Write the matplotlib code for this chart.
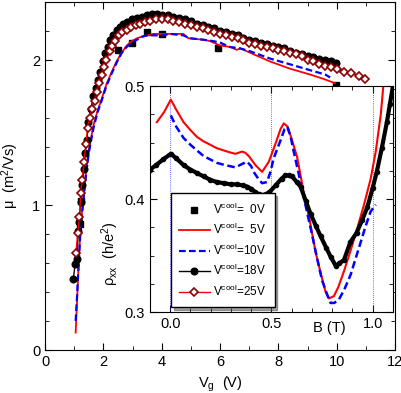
#!/usr/bin/env python

import matplotlib
matplotlib.use('Agg')
import matplotlib.pyplot as plt
from matplotlib.ticker import MultipleLocator

plt.rcParams['font.family'] = ['Liberation Sans', 'DejaVu Sans']
plt.rcParams['mathtext.fontset'] = 'custom'
plt.rcParams['mathtext.rm'] = 'Liberation Sans'
plt.rcParams['mathtext.it'] = 'Liberation Sans:italic'

##########################################
# main panel: mobility vs gate voltage

vg_0v = [1.2, 1.25, 2.49, 2.97, 3.49, 4.0, 5.94, 9.98]
mu_0v = [0.87, 1.03, 2.07, 2.12, 2.19, 2.18, 2.08, 1.83]

vg_5v = [1.05, 1.1, 1.15, 1.2, 1.25, 1.29, 1.4, 1.5, 1.66, 1.8, 1.94, 2.1, 2.29, 2.45, 2.63,
         2.8, 2.97, 3.15, 3.31, 3.5, 3.71, 4.0, 4.3, 4.74, 4.91, 5.43, 5.66, 6.0, 6.34, 6.57,
         6.69, 7.03, 7.71, 8.4, 9.08, 9.54, 9.94]
mu_5v = [0.12, 0.35, 0.58, 0.78, 0.92, 1.0, 1.22, 1.38, 1.55, 1.65, 1.73, 1.83, 1.92, 1.99, 2.05,
         2.1, 2.13, 2.15, 2.16, 2.17, 2.18, 2.18, 2.18, 2.18, 2.15, 2.14, 2.13, 2.1, 2.09, 2.07,
         2.08, 2.05, 1.99, 1.94, 1.9, 1.87, 1.84]

vg_10v = [1.05, 1.1, 1.15, 1.2, 1.25, 1.3, 1.4, 1.5, 1.66, 1.8, 1.94, 2.1, 2.29, 2.45, 2.63,
          2.8, 2.97, 3.15, 3.31, 3.5, 3.71, 4.0, 4.29, 4.74, 4.97, 5.43, 5.77, 6.0, 6.34, 6.69,
          7.03, 7.71, 8.4, 9.08, 9.6, 9.77]
mu_10v = [0.2, 0.38, 0.58, 0.77, 0.9, 1.0, 1.2, 1.36, 1.53, 1.64, 1.72, 1.82, 1.91, 1.98, 2.05,
          2.09, 2.12, 2.14, 2.16, 2.17, 2.17, 2.17, 2.18, 2.17, 2.15, 2.14, 2.13, 2.12, 2.09, 2.08,
          2.06, 2.01, 1.97, 1.93, 1.9, 1.88]

vg_18v = [0.97, 1.03, 1.09, 1.14, 1.17, 1.22, 1.28, 1.33, 1.37, 1.43, 1.49, 1.57, 1.66, 1.73,
          1.8, 1.89, 1.98, 2.06, 2.15, 2.23, 2.34, 2.46, 2.57, 2.68, 2.8, 2.97, 3.14, 3.31, 3.49,
          3.66, 3.83, 4.0, 4.2, 4.4, 4.6, 4.8, 5.0, 5.2, 5.4, 5.6, 5.8, 6.0, 6.2, 6.4, 6.6, 6.8,
          7.0, 7.2, 7.4, 7.6, 7.8, 8.0, 8.2, 8.4, 8.6, 8.8, 9.0, 9.2, 9.4, 9.6, 9.8, 9.97]
mu_18v = [0.49, 0.59, 0.63, 0.82, 0.88, 1.02, 1.14, 1.25, 1.36, 1.45, 1.57, 1.66, 1.75, 1.81,
          1.86, 1.92, 1.99, 2.05, 2.09, 2.14, 2.17, 2.21, 2.23, 2.25, 2.26, 2.28, 2.29, 2.3, 2.31,
          2.32, 2.32, 2.31, 2.31, 2.3, 2.29, 2.28, 2.27, 2.25, 2.24, 2.23, 2.22, 2.2, 2.19, 2.18,
          2.17, 2.15, 2.14, 2.13, 2.12, 2.11, 2.1, 2.09, 2.08, 2.06, 2.05, 2.04, 2.03, 2.02, 2.01,
          2.0, 1.99, 1.98]

vg_25v = [1.06, 1.12, 1.18, 1.22, 1.27, 1.34, 1.4, 1.46, 1.53, 1.6, 1.71, 1.77, 1.85, 1.94,
          2.03, 2.1, 2.23, 2.31, 2.4, 2.54, 2.65, 2.8, 2.95, 3.11, 3.25, 3.43, 3.6, 3.8, 4.0,
          4.2, 4.4, 4.6, 4.8, 5.0, 5.2, 5.4, 5.6, 5.8, 6.0, 6.2, 6.4, 6.6, 6.8, 7.0, 7.2, 7.4,
          7.6, 7.8, 8.0, 8.2, 8.4, 8.6, 8.8, 9.0, 9.2, 9.4, 9.6, 9.8, 10.0, 10.25, 10.5, 10.75,
          10.97]
mu_25v = [0.67, 0.81, 0.92, 1.08, 1.17, 1.3, 1.42, 1.53, 1.6, 1.66, 1.72, 1.78, 1.84, 1.9,
          1.95, 2.0, 2.06, 2.1, 2.13, 2.17, 2.19, 2.21, 2.23, 2.24, 2.25, 2.26, 2.27, 2.28, 2.28,
          2.28, 2.27, 2.26, 2.25, 2.24, 2.23, 2.22, 2.21, 2.19, 2.18, 2.17, 2.16, 2.15, 2.14,
          2.12, 2.11, 2.1, 2.09, 2.08, 2.07, 2.06, 2.05, 2.04, 2.03, 2.0, 1.99, 1.97, 1.96, 1.95,
          1.94, 1.92, 1.91, 1.89, 1.87]

##########################################
# inset: rho_xx vs B

b_5v = [-0.066, -0.03, 0.003, 0.03, 0.066, 0.1, 0.132, 0.165, 0.198, 0.23, 0.264, 0.3, 0.322,
        0.355, 0.37, 0.388, 0.421, 0.454, 0.487, 0.52, 0.545, 0.561, 0.58, 0.6, 0.627, 0.66,
        0.69, 0.718, 0.745, 0.767, 0.784, 0.808, 0.83, 0.858, 0.89, 0.924, 0.96, 0.99, 1.015,
        1.04, 1.055]
rho_5v = [0.468, 0.477, 0.488, 0.479, 0.468, 0.461, 0.455, 0.451, 0.448, 0.445, 0.443, 0.441,
          0.44, 0.442, 0.441, 0.438, 0.43, 0.424, 0.433, 0.449, 0.462, 0.467, 0.464, 0.453, 0.437,
          0.405, 0.38, 0.353, 0.333, 0.318, 0.312, 0.314, 0.322, 0.336, 0.354, 0.374, 0.397,
          0.418, 0.442, 0.475, 0.505]

b_10v = [0.003, 0.03, 0.066, 0.1, 0.132, 0.165, 0.198, 0.23, 0.272, 0.322, 0.355, 0.38, 0.4,
         0.412, 0.435, 0.454, 0.478, 0.495, 0.511, 0.545, 0.565, 0.578, 0.595, 0.61, 0.635,
         0.66, 0.695, 0.726, 0.75, 0.776, 0.792, 0.81, 0.833, 0.86, 0.891, 0.915, 0.941, 0.965,
         0.99, 1.015]
rho_10v = [0.474, 0.464, 0.454, 0.448, 0.443, 0.438, 0.435, 0.432, 0.43, 0.428, 0.431, 0.433,
           0.429, 0.424, 0.418, 0.414, 0.415, 0.424, 0.436, 0.452, 0.462, 0.464, 0.455, 0.442,
           0.422, 0.401, 0.373, 0.347, 0.328, 0.315, 0.308, 0.308, 0.311, 0.32, 0.333, 0.347,
           0.362, 0.376, 0.389, 0.395]

b_18v = [-0.1, -0.07, -0.035, 0.003, 0.03, 0.066, 0.1, 0.132, 0.165, 0.198, 0.23, 0.264, 0.3,
         0.33, 0.36, 0.38, 0.4, 0.421, 0.44, 0.462, 0.49, 0.52, 0.55, 0.569, 0.586, 0.602,
         0.625, 0.644, 0.67, 0.693, 0.72, 0.743, 0.77, 0.792, 0.817, 0.835, 0.858, 0.89, 0.92,
         0.947, 0.974, 1.0, 1.02, 1.045, 1.07, 1.085, 1.1]
rho_18v = [0.426, 0.43, 0.435, 0.44, 0.436, 0.43, 0.426, 0.423, 0.42, 0.417, 0.415, 0.414,
           0.413, 0.413, 0.412, 0.411, 0.409, 0.406, 0.404, 0.4035, 0.406, 0.412, 0.418, 0.421,
           0.421, 0.42, 0.415, 0.411, 0.398, 0.387, 0.376, 0.367, 0.357, 0.349, 0.341, 0.343,
           0.346, 0.362, 0.37, 0.381, 0.393, 0.41, 0.424, 0.445, 0.468, 0.484, 0.5]

dotted_b = [0.0, 0.5, 1.0]

labels = ['V$^{\\mathrm{cool}}$=  0V', 'V$^{\\mathrm{cool}}$=  5V', 'V$^{\\mathrm{cool}}$=10V',
          'V$^{\\mathrm{cool}}$=18V', 'V$^{\\mathrm{cool}}$=25V']

fig = plt.figure(figsize=(4.02, 3.93), dpi=100)
ax = fig.add_axes([0.112, 0.1094, 0.871, 0.8855])

ax.plot(vg_0v, mu_0v, 's', color='k', ms=4.5, label=labels[0])
ax.plot(vg_5v, mu_5v, '-', color='red', lw=1.3, label=labels[1])
ax.plot(vg_10v, mu_10v, '--', color='blue', lw=1.6, dashes=(3, 1.5), label=labels[2])
ax.plot(vg_18v, mu_18v, '-o', color='k', lw=1, ms=4.8, label=labels[3])
ax.plot(vg_25v, mu_25v, '-D', color='red', lw=1, ms=4.3, mfc='white', mec='#8b0000',
        mew=1.2, label=labels[4])

ax.set_xlim(0, 12)
ax.set_ylim(0, 2.4)
ax.xaxis.set_major_locator(MultipleLocator(2))
ax.xaxis.set_minor_locator(MultipleLocator(1))
ax.yaxis.set_major_locator(MultipleLocator(1))
ax.yaxis.set_minor_locator(MultipleLocator(0.2))
ax.tick_params(which='both', direction='in', top=True, right=True, labelsize=10.5)
ax.tick_params(which='major', length=5)
ax.tick_params(which='minor', length=3)
ax.set_xlabel('V$_\\mathrm{g}$  (V)', fontsize=10.5, labelpad=4)
ax.set_ylabel('μ  (m$^2$/Vs)', fontsize=10.5, labelpad=8)

##########################################

ax_in = fig.add_axes([0.373, 0.2061, 0.6045, 0.575])
for b in dotted_b:
    ax_in.axvline(b, color='#3333ff', ls=(0, (1, 1.5)), lw=0.6)
ax_in.plot(b_5v, rho_5v, '-', color='red', lw=1.5)
ax_in.plot(b_10v, rho_10v, '--', color='blue', lw=1.8, dashes=(3, 1.5))
ax_in.plot(b_18v, rho_18v, '-o', color='k', lw=3, ms=3)

ax_in.set_xlim(-0.1, 1.1)
ax_in.set_ylim(0.3, 0.5)
ax_in.xaxis.set_major_locator(MultipleLocator(0.5))
ax_in.xaxis.set_minor_locator(MultipleLocator(0.1))
ax_in.yaxis.set_major_locator(MultipleLocator(0.1))
ax_in.yaxis.set_minor_locator(MultipleLocator(0.025))
ax_in.tick_params(which='both', direction='in', top=True, right=True, labelsize=10.5)
ax_in.tick_params(which='major', length=5)
ax_in.tick_params(which='minor', length=3)
ax_in.set_xlabel('B (T)', fontsize=10.5)
ax_in.xaxis.set_label_coords(0.74, -0.04)
ax_in.set_ylabel('ρ$_\\mathrm{xx}$  (h/e$^2$)', fontsize=10.5)
ax_in.yaxis.set_label_coords(-0.12, 0.26)

lines, labs = ax.get_legend_handles_labels()
leg = ax_in.legend(lines, labs, loc='lower left', bbox_to_anchor=(0.086, 0.022),
                   borderaxespad=0, fontsize=8.5, numpoints=1, handlelength=2.6,
                   fancybox=False, shadow=True, framealpha=1, edgecolor='k',
                   labelspacing=0.45, borderpad=0.7, handletextpad=0.3)
leg.get_frame().set_linewidth(1)

plt.savefig('out.png', dpi=100)
plt.close('all')
